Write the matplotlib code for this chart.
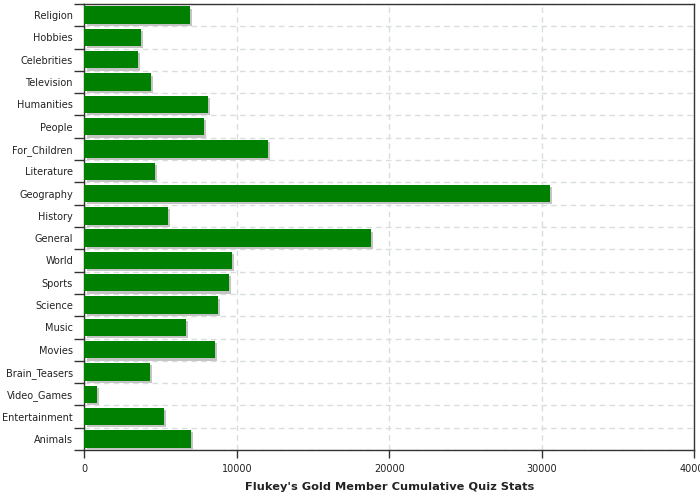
import matplotlib
matplotlib.use("Agg")
import matplotlib.pyplot as plt
import matplotlib.patheffects as pe
import numpy as np

categories = ["Religion", "Hobbies", "Celebrities", "Television", "Humanities", "People",
              "For_Children", "Literature", "Geography", "History", "General", "World",
              "Sports", "Science", "Music", "Movies", "Brain_Teasers", "Video_Games",
              "Entertainment", "Animals"]
values = [6920, 3700, 3510, 4380, 8100, 7840, 12040, 4630, 30540, 5480, 18800, 9680,
          9480, 8760, 6660, 8560, 4300, 820, 5220, 6990]
xticks = [0, 10000, 20000, 30000, 40000]

fig = plt.figure(figsize=(7, 5), dpi=100)
ax = fig.add_axes([0.1207, 0.1, 0.8713, 0.892])

n = len(categories)
pos = np.arange(n)
bars = ax.barh(pos, values, height=0.78, color="#008000", zorder=3)
for b in bars:
    b.set_path_effects([pe.SimplePatchShadow(offset=(1.6, -1.6), shadow_rgbFace="#c4c4c4", alpha=1.0),
                        pe.Normal()])

ax.set_xlim(0, 40000)
ax.set_ylim(n - 0.5, -0.5)
ax.set_xticks(xticks)
ax.set_xticklabels([str(t) for t in xticks], fontsize=7, color="#222222")

ax.set_yticks(np.arange(n + 1) - 0.5)
ax.set_yticklabels([])
ax.set_yticks(pos, minor=True)
ax.set_yticklabels(categories, minor=True, fontsize=7, color="#222222")
ax.tick_params(axis="y", which="major", length=7.5, width=1, color="#333333")
ax.tick_params(axis="y", which="minor", length=0, pad=8.3)
ax.tick_params(axis="x", length=6, width=1, color="#333333", pad=4)

ax.grid(True, which="major", axis="both", linestyle=(0, (4, 3)), color="#d8dde0", linewidth=1, zorder=0)
ax.set_axisbelow(True)
for s in ax.spines.values():
    s.set_color("#333333")
    s.set_linewidth(1)

ax.set_xlabel("Flukey's Gold Member Cumulative Quiz Stats", fontsize=8.2, fontweight="bold",
              color="#222222", labelpad=6)

fig.savefig("out.png", dpi=100)
